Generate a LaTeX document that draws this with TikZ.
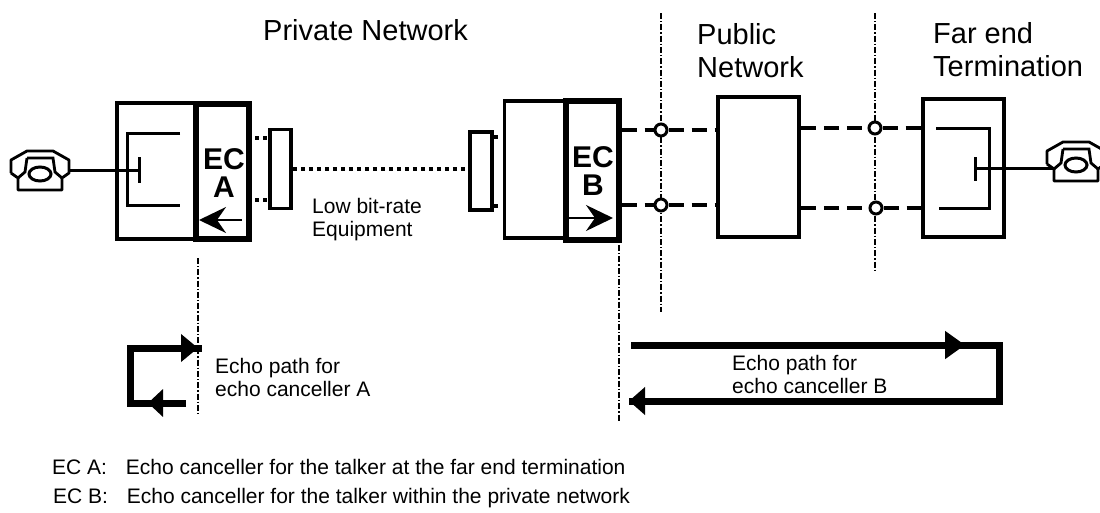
\documentclass[tikz,border=0pt]{standalone}
\usepackage{fontspec}
\setmainfont{Liberation Sans}
\usetikzlibrary{arrows.meta,positioning}

\begin{document}
\begin{tikzpicture}[
    x=1pt, y=-1pt,
    unit/.style={draw, line width=3.5pt, inner sep=0pt},
    canceller/.style={draw, line width=6pt, inner sep=0pt},
    eclabel/.style={anchor=base, inner sep=0pt, font=\bfseries\fontsize{30}{27.5}\selectfont, align=center},
    hybrid/.style={line width=3pt},
    handline/.style={line width=3pt},
    digital/.style={line width=3.5pt, dash pattern=on 4pt off 4pt},
    analog/.style={line width=3.5pt, dash pattern=on 15pt off 8pt},
    border/.style={line width=1.3pt, dash pattern=on 6pt off 2pt on 1.3pt off 2pt},
    junction/.style={circle, draw, fill=white, line width=3pt, minimum size=12pt, inner sep=0pt},
    direction/.style={line width=1.8pt, -{Stealth[length=27pt,width=26pt,inset=9pt]}},
    echopath/.style={line width=7pt},
    echotip/.style={-{Triangle[length=#1,width=27pt]}},
    echotip/.default=20pt,
    title/.style={anchor=base west, inner sep=0pt, font=\fontsize{29}{33}\selectfont, align=left},
    note/.style={anchor=base west, inner sep=0pt, font=\fontsize{21}{23}\selectfont, align=left},
    phone/.pic={
        \draw[line width=2.8pt, line join=round, fill=white]
            (-29,3) -- (-29,-10) -- (-13,-19) -- (13,-19) -- (29,-10) -- (29,3) -- (22,8)
            (-29,3) -- (-22,8) -- (-22,20) -- (22,20) -- (22,8);
        \draw[line width=2.8pt, fill=white] (-13,-12) -- (13,-12) -- (15,2) -- (22,8) (-13,-12) -- (-15,2) -- (-22,8);
        \draw[line width=3pt, fill=white] (0,4) ellipse (11 and 7);
    }
]
\useasboundingbox (0,0) rectangle (1100,512);

% === Boundaries ===
\coordinate (bA1) at (198,258); \coordinate (bA2) at (198,415);
\coordinate (bB1) at (619,245); \coordinate (bB2) at (619,422);
\coordinate (bP1) at (661,13);  \coordinate (bP2) at (661,312);
\coordinate (bF1) at (875,13);  \coordinate (bF2) at (875,272);
\foreach \s/\e in {bA1/bA2, bB1/bB2, bP1/bP2, bF1/bF2} {
    \draw[border] (\s) -- (\e);
}

% === Private network, side A ===
\node[unit, minimum width=80pt, minimum height=136pt] (boxA) at (157,171) {};
\node[canceller, minimum width=53pt, minimum height=135pt] (ecA) at (222.5,171) {};
\node[eclabel] (lblA) at (224,197) {EC\\A};
\node[unit, minimum width=21pt, minimum height=79pt] (lbrA) at (280.5,169) {};

\draw[hybrid] (180,133) -- (127,133) -- (127,205) -- (180,205);
\coordinate (termA) at (139,170);
\draw[hybrid] (139,157) -- (139,183);
\pic (phoneA) at (40,170) {phone};
\coordinate (phoneAend) at (69,170);
\draw[handline] (phoneAend) -- (termA);
\coordinate (arrA1) at (242,220); \coordinate (arrA2) at (199,220);
\draw[direction] (arrA1) -- (arrA2);

% === Private network, side B ===
\node[unit, minimum width=61pt, minimum height=137pt] (boxB) at (535,169.5) {};
\node[canceller, minimum width=53pt, minimum height=139pt] (ecB) at (592,170.5) {};
\node[eclabel] (lblB) at (593,195) {EC\\B};
\node[unit, minimum width=22pt, minimum height=78pt] (lbrB) at (481,171) {};
\coordinate (arrB1) at (569,218); \coordinate (arrB2) at (613,218);
\draw[direction] (arrB1) -- (arrB2);

% Low bit-rate link
\draw[digital] (lbrA.east) -- (lbrA.east -| lbrB.west);
\foreach \y in {138, 200} {
    \draw[digital] (255,\y) -- (lbrA.west |- 0,\y);
}
\foreach \y in {137, 206} {
    \draw[digital] (lbrB.east |- 0,\y) -- (501,\y);
}

% === Public network ===
\node[unit, minimum width=81pt, minimum height=140pt] (pub) at (758.5,167) {};
\node[unit, minimum width=81pt, minimum height=138pt] (far) at (963.5,168) {};

% Trunks and junctions
\node[junction] (jP1) at (661,130) {};
\node[junction] (jP2) at (661,205) {};
\node[junction] (jF1) at (875,128) {};
\node[junction] (jF2) at (876,208) {};
\draw[analog] (ecB.east |- jP1) -- (jP1);
\draw[analog] (ecB.east |- jP2) -- (jP2);
\draw[analog] (jP1) -- (pub.west |- jP1);
\draw[analog] (jP2) -- (pub.west |- jP2);
\draw[analog] (pub.east |- jF1) -- (jF1);
\draw[analog] (pub.east |- jF2) -- (jF2);
\draw[analog] (jF1) -- (far.west |- jF1);
\draw[analog] (jF2) -- (far.west |- jF2);

% === Far end termination ===
\draw[hybrid] (936,128) -- (989,128) -- (989,208) -- (939,208);
\coordinate (termF) at (975,168);
\draw[hybrid] (975,157) -- (975,181);
\pic (phoneF) at (1076,161) {phone};
\coordinate (phoneFend) at (1053,168);
\draw[handline] (termF) -- (phoneFend);

% === Echo paths ===
\coordinate (pathA1) at (130,348); \coordinate (pathA2) at (198,348);
\coordinate (pathA3) at (130,403); \coordinate (pathA4) at (186,403);
\coordinate (pathA5) at (148,403);
\draw[echopath, line cap=rect] (pathA2) -- (pathA1) -- (pathA3) -- (pathA5);
\draw[echopath, echotip=17pt] (pathA1) -- (pathA2);
\draw[echopath, echotip=15pt] (pathA4) -- (pathA5);

\coordinate (pathB1) at (631,345); \coordinate (pathB2) at (965,345);
\coordinate (pathB3) at (999,345); \coordinate (pathB4) at (999,401);
\coordinate (pathB5) at (629,401);
\draw[echopath] (pathB1) -- (pathB3) -- (pathB4) -- (pathB5);
\draw[echopath, echotip] (pathB1) -- (pathB2);
\draw[echopath, echotip=16pt] (pathB4) -- (pathB5);

% === Labels ===
\node[title] (tPriv) at (263,40) {Private Network};
\node[title] (tPub) at (697,77) {Public\\Network};
\node[title] (tFar) at (933,76) {Far end\\Termination};
\node[note] (tLow) at (312,236) {Low bit-rate\\Equipment};
\node[note] (tEchoA) at (215,396) {Echo path for\\echo canceller A};
\node[note] (tEchoB) at (732,393) {Echo path for\\echo canceller B};
\node[note] (tKeyA) at (52,474) {EC A:\hspace{13pt} Echo canceller for the talker at the far end termination};
\node[note] (tKeyB) at (53,503) {EC B:\hspace{13pt} Echo canceller for the talker within the private network};

\end{tikzpicture}
\end{document}
